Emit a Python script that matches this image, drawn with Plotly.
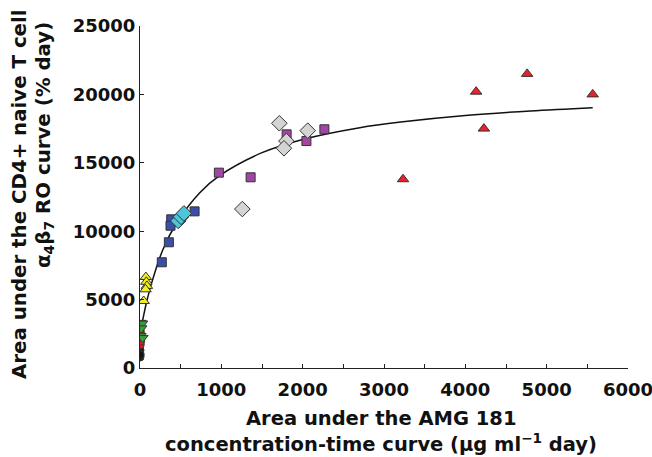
import plotly.graph_objects as go

# ---- data ----
black_x = [0, 0, 0, 2]
black_y = [1300, 1050, 800, 950]
redc_x = [3, 6, 3, 8]
redc_y = [2700, 2500, 1700, 1950]
green_x = [5, 25, 15, 5, 30]
green_y = [3300, 3250, 2900, 2350, 2200]
yellow_x = [72, 78, 85, 68, 45]
yellow_y = [6650, 6300, 6000, 5750, 4900]
blue_x = [671, 384, 375, 355, 268]
blue_y = [11450, 10870, 10400, 9190, 7730]
cyan_x = [470, 505, 540]
cyan_y = [10750, 11050, 11300]
purple_x = [970, 1360, 1803, 2046, 2267]
purple_y = [14280, 13940, 17080, 16590, 17450]
gray_x = [1713, 2062, 1800, 1770, 1258]
gray_y = [17890, 17350, 16590, 16060, 11620]
redt_x = [3234, 4133, 4228, 4760, 5566]
redt_y = [13800, 20200, 17500, 21500, 20000]

# fitted curve
curve_x = [2, 40, 76, 150, 281, 450, 732, 978, 1500, 2000, 2702, 3234, 4000, 4800, 5566]
curve_y = [2600, 3700, 4700, 6350, 8650, 10600, 12800, 14060, 15740, 16710, 17570, 18000, 18460, 18790, 19030]

x_ticks = [0, 1000, 2000, 3000, 4000, 5000, 6000]
y_ticks = [0, 5000, 10000, 15000, 20000, 25000]

FONT = "DejaVu Sans"
OUT = dict(color="#333333", width=1)

fig = go.Figure()
fig.add_trace(go.Scatter(x=curve_x, y=curve_y, mode="lines",
                         line=dict(color="#111111", width=1.5, shape="spline"),
                         hoverinfo="skip"))

def pts(x, y, symbol, color, size):
    fig.add_trace(go.Scatter(x=x, y=y, mode="markers",
                             marker=dict(symbol=symbol, color=color, size=size, line=OUT)))

pts(black_x, black_y, "circle", "#151515", 8)
pts(redc_x, redc_y, "circle", "#e02020", 8)
pts(green_x, green_y, "triangle-down", "#3a9a3a", 10)
pts(yellow_x, yellow_y, "triangle-up", "#f2ef1e", 10)
pts(blue_x, blue_y, "square", "#3b4fa8", 9)
pts(cyan_x, cyan_y, "diamond", "#4cc6d8", 12)
pts(purple_x, purple_y, "square", "#a346a3", 9)
pts(gray_x, gray_y, "diamond", "#d4d4d4", 12)
pts(redt_x, redt_y, "triangle-up", "#e8232b", 10)

fig.update_layout(
    width=652, height=457,
    margin=dict(l=140, r=24, t=26, b=89),
    paper_bgcolor="white", plot_bgcolor="white",
    showlegend=False,
    font=dict(family=FONT, size=18, color="#111111"),
    xaxis=dict(range=[0, 6000], tickvals=x_ticks, ticktext=[f"<b>{v}</b>" for v in x_ticks],
               ticks="inside", ticklen=4, tickcolor="#222", showline=True, linecolor="#222",
               linewidth=1, showgrid=False, zeroline=False, ticklabelstandoff=5,
               ticklabeloverflow="allow", automargin=False,
               minor=dict(dtick=500, ticks="inside", ticklen=4, tickcolor="#222")),
    yaxis=dict(range=[0, 25000], tickvals=y_ticks, ticktext=[f"<b>{v}</b>" for v in y_ticks],
               ticks="inside", ticklen=4, tickcolor="#222", showline=True, linecolor="#222",
               linewidth=1, showgrid=False, zeroline=False, automargin=False,
               ticklabeloverflow="allow"),
    annotations=[
        dict(text="<b>Area under the AMG 181</b>", xref="paper", yref="paper",
             x=(381 - 140) / 488, y=(368 - 418) / 342, showarrow=False,
             font=dict(size=19.5), xanchor="center", yanchor="middle"),
        dict(text="<b>concentration-time curve (μg ml<sup>−1</sup> day)</b>", xref="paper", yref="paper",
             x=(381 - 140) / 488, y=(368 - 443) / 342, showarrow=False,
             font=dict(size=19.5), xanchor="center", yanchor="middle"),
        dict(text="<b>Area under the CD4+ naive T cell</b>", xref="paper", yref="paper",
             x=(19 - 140) / 488, y=(368 - 194) / 342, showarrow=False, textangle=-90,
             font=dict(size=19.8), xanchor="center", yanchor="middle"),
        dict(text="<b>α<sub>4</sub>β<sub>7</sub> RO curve (% day)</b>", xref="paper", yref="paper",
             x=(44 - 140) / 488, y=(368 - 145) / 342, showarrow=False, textangle=-90,
             font=dict(size=19.8), xanchor="center", yanchor="middle"),
    ],
)

fig.write_html("out.html")
